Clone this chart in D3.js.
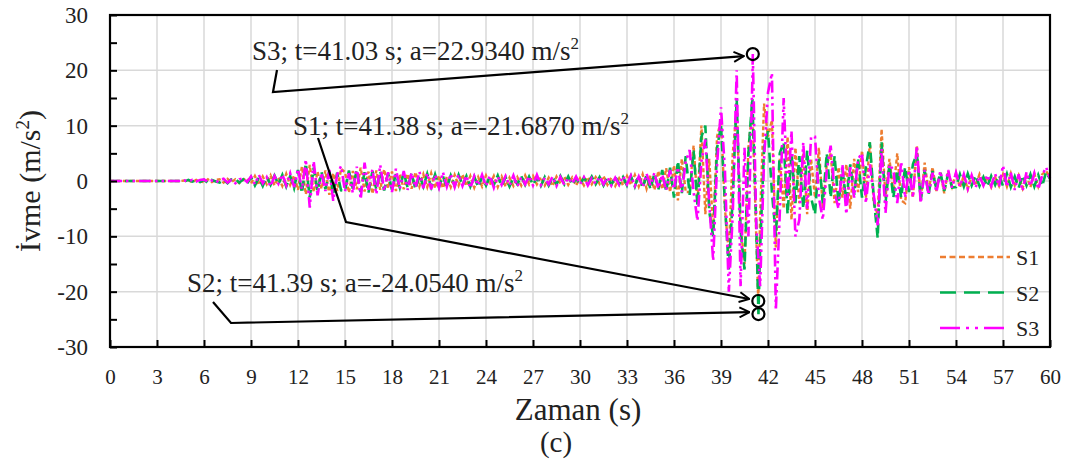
<!DOCTYPE html>
<html>
<head>
<meta charset="utf-8">
<script src="https://cdn.jsdelivr.net/npm/d3@7/dist/d3.min.js"></script>
<style>
  html, body { margin: 0; padding: 0; background: #fff; }
  svg { display: block; }
</style>
</head>
<body>
<svg id="chart" width="1071" height="463"></svg>
<script>
// Sampling interval of the acceleration records (s)
const dt = 0.25;

// Acceleration records (m/s²), one value every dt seconds from t = 0 to t = 60 s
const s1Values = [
  0,0,0,0, 0,0,0,0, 0,0,0,0, 0,0,0,0, 0,0,0,0.1,
  0.1,-0.2,0.2,-0.1, -0.2,0.3,-0.2,0.2, 0.3,-0.3,0.4,-0.2, 0.3,-0.4,0.2,0.5,
  -0.5,0.9,-0.7,0.8, -0.6,1.0,-0.8,0.6, -0.9,1.3,-0.7,1.0, -1.6,2.6,-2.4,2.9,
  -2.0,1.7,-1.4,1.9, -2.5,1.4,-1.8,2.2, 1.6,-2.1,1.8,-1.5, 2.4,-1.9,1.7,-2.3,
  1.9,-1.6,2.1,-1.3, 1.7,-1.8,1.2,-1.5, 1.3,-1.4,1.6,-1.0, 1.2,-1.1,1.4,-1.3,
  1.0,-1.3,0.8,-1.1, 1.1,-0.8,1.2,-0.9, 0.9,-1.2,0.7,-1.0, 1.0,-0.7,0.9,-1.1,
  0.8,-1.0,0.6,-0.9, 0.7,-0.8,1.0,-0.6, 0.9,-0.6,0.7,-0.8, 0.6,-0.9,0.8,-0.5,
  0.8,-0.7,0.6,-0.8, 0.5,-0.8,0.7,-0.6, 0.7,-0.5,0.9,-0.7, 0.6,-0.9,0.5,-0.8,
  0.9,-0.7,1.1,-1.0, 1.2,-1.4,1.0,-1.6, 1.8,-1.5,2.3,-2.0, 2.8,-3.5,4.0,-2.0,
  -2.0,6.4,-4.0,10.0, -6.0,4.0,-9.0,8.0, 11.0,-5.0,-13.0,5.0, 13.0,-8.0,-15.0,6.0,
  13.0,-10.0,-6.0,14.0, 8.0,11.0,-12.0,4.0, -5.0,8.0,-7.0,6.0, -4.0,5.0,-6.0,4.0,
  -3.0,6.0,-5.0,3.0, 5.0,-4.0,2.5,-3.0, 3.0,-5.0,4.0,-2.0, 5.5,-3.0,7.0,-4.0,
  -6.0,9.4,-3.0,4.0, -2.0,5.0,-3.5,-4.0, 2.5,-3.0,6.4,-3.6, 3.3,-2.0,2.5,-1.8,
  1.5,-2.2,1.8,-1.0, 1.4,-1.2,1.0,-1.5, 0.9,-0.8,1.2,-0.7, 0.8,-1.1,0.7,-0.9,
  1.2,-1.0,1.4,-0.8, 1.0,-1.3,0.9,-1.1, 1.3,-1.0,1.2,1.8, 0.6
];
const s2Values = [
  0,0,0,0, 0,0,0,0, 0,0,0,0, 0,0,0,0, 0,0,0,-0.1,
  0.2,-0.1,0.1,-0.2, 0.2,-0.3,0.2,-0.1, -0.3,0.2,-0.4,0.3, 0.4,-0.3,0.3,-0.5,
  0.7,-0.8,0.6,-0.9, 0.8,-0.7,1.0,-0.6, 1.1,-1.0,0.9,-1.3, 2.0,-2.2,3.2,-3.0,
  2.4,-1.8,1.6,-1.5, 1.8,-2.3,1.5,-1.7, -1.8,1.9,-1.4,2.0, -2.0,1.6,-2.1,1.8,
  -1.5,1.8,-1.7,1.4, -1.6,1.3,-1.2,1.5, -1.2,1.4,-1.5,1.1, -1.0,1.3,-1.1,1.2,
  -1.1,0.9,-1.2,1.0, -0.9,1.1,-0.8,0.9, -1.0,0.8,-1.1,0.7, -0.8,0.9,-0.7,1.0,
  -0.9,0.7,-1.0,0.6, -0.6,0.9,-0.7,0.8, -0.7,0.6,-0.9,0.7, -0.8,0.7,-0.6,0.9,
  -0.6,0.8,-0.7,0.5, -0.7,0.6,-0.5,0.8, -0.6,0.7,-0.8,0.6, -0.7,0.8,-0.6,0.7,
  -0.8,0.9,-1.0,1.1, -1.3,1.1,-1.5,1.4, -1.6,2.0,-1.9,2.4, -3.0,3.6,-2.2,4.5,
  -2.5,5.5,-4.5,8.0, 10.0,-5.5,-10.0,6.0, 10.0,-4.0,-16.0,-3.0, 15.0,-9.0,-16.0,5.0,
  15.0,-8.0,-12.0,6.0, 9.0,-2.0,-10.0,5.0, 7.0,-6.0,5.0,-4.0, 4.5,-5.0,5.5,-3.0,
  -6.0,4.0,-4.0,5.0, -3.0,4.5,-4.0,2.0, -3.5,3.0,-2.5,4.0, -3.0,2.5,7.0,-3.0,
  -10.3,7.0,-4.0,3.0, -3.0,2.0,-3.0,2.5, -2.0,3.0,5.0,-3.5, 2.0,-2.5,1.8,-1.5,
  1.6,-1.8,1.3,-1.2, -1.1,1.2,-1.0,1.3, -0.8,1.0,-0.9,0.7, -1.0,0.9,-0.7,1.0,
  -0.9,1.3,-1.1,0.8, -1.2,1.0,-0.8,1.2, -1.0,1.1,-0.9,1.6, 0.4
];
const s3Values = [
  0,0,0,0, 0,0,0,0, 0,0,0,0, 0,0,0,0, 0,0,0,0.1,
  -0.1,0.2,-0.1,0.2, 0.3,-0.2,0.1,-0.3, 0.2,0.4,-0.3,0.2, -0.4,0.3,0.5,-0.2,
  0.8,-0.6,1.1,-0.4, 0.7,-1.0,0.9,-0.5, 1.2,-0.8,1.4,-1.1, 2.2,-1.5,3.9,-4.8,
  3.6,-2.6,1.5,-1.8, 2.0,-3.6,1.2,2.7, -1.9,1.4,-2.2,2.6, -3.3,3.3,-1.6,2.1,
  -2.4,2.9,-1.8,1.6, -2.0,2.2,-1.4,1.8, -1.6,1.5,-1.2,1.7, -1.3,1.4,-1.5,1.1,
  -1.2,1.6,-1.0,1.3, -1.1,1.2,-0.9,1.0, -1.3,0.9,-0.8,1.1, -0.9,1.0,-1.2,0.8,
  -0.7,0.9,-0.8,1.0, -1.0,0.7,-0.6,0.9, -0.8,1.1,-0.7,0.6, -0.6,0.8,-0.9,0.7,
  -0.7,0.6,-0.5,0.8, -0.6,0.7,-0.8,0.5, -0.5,0.8,-0.6,0.7, -0.8,0.6,-0.7,0.9,
  -0.6,1.0,-0.9,0.8, -1.1,1.3,-0.8,1.5, -1.4,1.2,-1.7,2.0, -1.5,2.5,-2.0,3.5,
  5.6,-2.0,-7.2,3.5, 7.5,-4.0,-14.4,3.0, 13.3,2.0,-20.0,-6.0, 20.0,-19.0,6.0,-10.0,
  18.0,-8.0,-19.0,4.0, 16.0,19.5,-23.4,-6.0, 15.0,-3.0,9.0,-10.0, -7.0,7.0,-5.0,8.0,
  8.0,-3.0,-7.0,2.0, 6.4,-2.0,-5.0,3.0, -6.0,2.5,-3.0,4.0, 5.0,-4.0,3.0,-2.5,
  -8.0,5.8,-5.8,3.0, 2.0,-4.0,3.5,-3.0, 2.0,-3.0,6.4,-4.0, 2.0,-2.5,1.5,-2.0,
  1.8,-1.5,2.0,-1.2, 1.5,-1.0,1.2,-1.4, 1.0,-1.2,0.9,-0.8, 1.1,-0.9,1.3,-1.0,
  2.8,-1.1,1.5,-1.6, 1.2,-1.8,1.6,-0.9, 1.4,-1.5,1.0,2.5, 0.5
];

// Peak values picked out on each record
const peakSeries = ["S3", "S1", "S2"];
const peakTimes = [41.03, 41.38, 41.39];
const peakAccels = [22.934, -21.687, -24.054];

const seriesNames = ["S1", "S2", "S3"];
const xTicks = [0, 3, 6, 9, 12, 15, 18, 21, 24, 27, 30, 33, 36, 39, 42, 45, 48, 51, 54, 57, 60];
const yTicks = [-30, -20, -10, 0, 10, 20, 30];

const FONT = '"Liberation Serif"';
const colors = { S1: "#ED7D31", S2: "#00B050", S3: "#FF00FF" };
const dashes = { S1: "4,2.5", S2: "10,5", S3: "12,4,2.5,4,2.5,4" };
const widths = { S1: 2.4, S2: 2.6, S3: 2.6 };

const svg = d3.select("#chart");
const plot = { left: 110, right: 1050, top: 15, bottom: 347 };

const x = d3.scaleLinear().domain([0, 60]).range([plot.left, plot.right]);
const y = d3.scaleLinear().domain([-30, 30]).range([plot.bottom, plot.top]);

// Build each record as (t, a) points, including its picked peak
function buildSeries(name, values) {
  const pts = values.map((a, i) => ({ t: +(i * dt).toFixed(2), a }));
  peakSeries.forEach((s, k) => {
    if (s === name) pts.push({ t: peakTimes[k], a: peakAccels[k] });
  });
  return pts.sort((p, q) => p.t - q.t);
}
const records = {
  S1: buildSeries("S1", s1Values),
  S2: buildSeries("S2", s2Values),
  S3: buildSeries("S3", s3Values)
};

// Grid
const grid = svg.append("g").attr("stroke", "#d9d9d9").attr("stroke-width", 1.5);
grid.selectAll("line.v").data(xTicks.filter(t => t > 0 && t < 60)).join("line")
  .attr("x1", d => x(d)).attr("x2", d => x(d))
  .attr("y1", plot.top).attr("y2", plot.bottom);
grid.selectAll("line.h").data(yTicks.filter(v => v > -30 && v < 30)).join("line")
  .attr("x1", plot.left).attr("x2", plot.right)
  .attr("y1", d => y(d)).attr("y2", d => y(d));

// Records
const line = d3.line().x(d => x(d.t)).y(d => y(d.a));
const lines = svg.append("g").attr("fill", "none");
seriesNames.forEach(name => {
  lines.append("path")
    .datum(records[name])
    .attr("d", line)
    .attr("stroke", colors[name])
    .attr("stroke-width", widths[name])
    .attr("stroke-dasharray", dashes[name]);
});

// Axes with inward ticks
const xAxis = d3.axisBottom(x).tickValues(xTicks).tickSizeInner(-7).tickSizeOuter(0).tickPadding(22);
const gx = svg.append("g").attr("transform", `translate(0,${plot.bottom})`).call(xAxis);
gx.select(".domain").remove();
gx.selectAll(".tick line").attr("stroke", "#000").attr("stroke-width", 2);
gx.selectAll(".tick text").attr("font-size", 21);

const yAxis = d3.axisLeft(y).tickValues(d3.range(-30, 31, 5)).tickSizeInner(-7).tickSizeOuter(0).tickPadding(22)
  .tickFormat(d => (d % 10 === 0 ? String(d) : ""));
const gy = svg.append("g").attr("transform", `translate(${plot.left},0)`).call(yAxis);
gy.select(".domain").remove();
gy.selectAll(".tick line").attr("stroke", "#000").attr("stroke-width", 2);
gy.selectAll(".tick text").attr("font-size", 23);

// Frame
svg.append("rect")
  .attr("x", plot.left).attr("y", plot.top)
  .attr("width", plot.right - plot.left).attr("height", plot.bottom - plot.top)
  .attr("fill", "none").attr("stroke", "#000").attr("stroke-width", 2.2);

// Axis titles
svg.append("text")
  .attr("transform", `translate(40,${(plot.top + plot.bottom) / 2}) rotate(-90)`)
  .attr("text-anchor", "middle").attr("font-size", 30)
  .text("İvme (m/s")
  .call(t => t.append("tspan").attr("dy", -11).attr("font-size", 19).text("2"))
  .call(t => t.append("tspan").attr("dy", 11).text(")"));

svg.append("text")
  .attr("x", 578).attr("y", 420)
  .attr("text-anchor", "middle").attr("font-size", 31)
  .text("Zaman (s)");
svg.append("text")
  .attr("x", 556).attr("y", 452)
  .attr("text-anchor", "middle").attr("font-size", 29)
  .text("(c)");

// Legend
const legend = svg.append("g");
seriesNames.forEach((name, i) => {
  const ly = 257 + i * 35.5;
  legend.append("line")
    .attr("x1", 940).attr("x2", 1010).attr("y1", ly).attr("y2", ly)
    .attr("stroke", colors[name]).attr("stroke-width", 2.6)
    .attr("stroke-dasharray", { S1: "6,3.5", S2: "16,8", S3: "20,6,3,6,3,6" }[name]);
  legend.append("text")
    .attr("x", 1016).attr("y", ly + 8)
    .attr("font-size", 22)
    .text(name);
});

// Peak markers and leader arrows
svg.append("defs").append("marker")
  .attr("id", "arrow").attr("viewBox", "0 0 12 12")
  .attr("refX", 11).attr("refY", 6)
  .attr("markerWidth", 12).attr("markerHeight", 12)
  .attr("markerUnits", "userSpaceOnUse")
  .attr("orient", "auto")
  .append("path").attr("d", "M1,1 L11,6 L1,11")
  .attr("fill", "none").attr("stroke", "#000").attr("stroke-width", 2);

const labelPos = {
  S3: { tx: 252, ty: 60, path: [[277, 70], [273, 92]], dy: 2 },
  S1: { tx: 293, ty: 135, path: [[318, 138], [346, 222]], dy: -2 },
  S2: { tx: 187, ty: 292, path: [[213, 302], [231, 323]], dy: -2 }
};

peakSeries.forEach((name, k) => {
  const cx = x(peakTimes[k]), cy = y(peakAccels[k]);
  const pos = labelPos[name];
  const pts = pos.path.concat([[cx - 9, cy + pos.dy]]);
  svg.append("path")
    .attr("d", d3.line()(pts))
    .attr("fill", "none").attr("stroke", "#000").attr("stroke-width", 2.2)
    .attr("marker-end", "url(#arrow)");
  svg.append("circle")
    .attr("cx", cx).attr("cy", cy).attr("r", 6)
    .attr("fill", "none").attr("stroke", "#000").attr("stroke-width", 2.2);

  const t = svg.append("text")
    .attr("x", pos.tx).attr("y", pos.ty)
    .attr("font-size", 27);
  t.append("tspan").text(`${name}; t=${peakTimes[k].toFixed(2)} s; a=${peakAccels[k].toFixed(4)} m/s`);
  t.append("tspan").attr("dy", -11).attr("font-size", 17).text("2");
});

// Serif face and dark fill for every label
svg.selectAll("text").style("font-family", FONT).style("fill", "#222");
</script>
</body>
</html>
